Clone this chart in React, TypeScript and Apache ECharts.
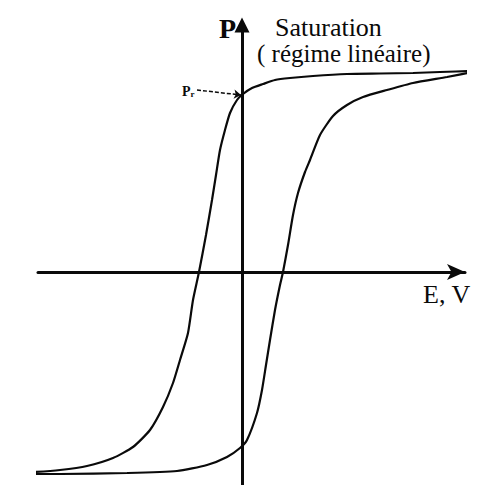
import React, { useEffect, useRef } from "react";
import * as echarts from "echarts";

// Hysteresis loop P(E) of a ferroelectric: descending and ascending branches.
const descendingE = [23.1, 19.8, 17.1, 13.8, 10.5, 7.1, 4.8, 3.3, 2.1, 1.0, 0.1, -0.5, -1.2, -1.7, -2.2, -2.6, -3.0, -3.6, -4.3, -4.9, -5.4, -6.2, -6.9, -7.9, -9.2, -10.9, -12.9, -15.5, -18.2, -20.7, -22.9];
const descendingP = [20.1, 20.0, 19.9, 19.85, 19.8, 19.6, 19.4, 19.2, 18.8, 18.4, 17.8, 17.2, 15.9, 14.2, 12.2, 9.7, 7.2, 3.7, 0, -2.8, -6.1, -8.8, -11.1, -13.5, -15.8, -17.5, -18.6, -19.4, -19.8, -20.0, -20.1];

const ascendingE = [-22.9, -18.2, -11.5, -6.5, -3.5, -1.5, -0.2, 0.5, 1.5, 2.0, 2.4, 2.8, 3.3, 3.8, 4.1, 4.6, 5.1, 5.6, 6.3, 6.8, 7.8, 9.1, 10.5, 12.1, 14.5, 17.1, 20.5, 23.1];
const ascendingP = [-20.2, -20.2, -20.1, -19.9, -19.3, -18.5, -17.6, -16.8, -14.1, -11.8, -9.3, -6.8, -3.8, -1.3, 0, 2.7, 5.7, 7.9, 10.0, 11.2, 13.7, 15.6, 16.7, 17.5, 18.2, 18.9, 19.5, 20.0];

// Axis ranges (E horizontal, P vertical)
const eRange = [-20.4, 22.3];
const pRange = [-21.3, 25.3];

// Remanent polarisation pointer: dashed tail, then its tip on the P axis
const remanentPointerE = [-4.5, -0.1];
const remanentPointerP = [18.2, 17.7];

const axisLabels = { p: "P", e: "E, V" };
const saturationLines = ["Saturation", "( régime linéaire)"];

const zip = (xs: number[], ys: number[]) => xs.map((x, i) => [x, ys[i]]);

export default function App() {
  const ref = useRef<HTMLDivElement>(null);

  useEffect(() => {
    if (!ref.current) return;
    const chart = echarts.init(ref.current, undefined, { renderer: "svg" });
    const ink = "#0a0a0a";
    const serif = "Liberation Serif";

    const hidden = {
      axisTick: { show: false },
      axisLabel: { show: false },
      splitLine: { show: false },
    };

    chart.setOption({
      animation: false,
      backgroundColor: "#ffffff",
      grid: { left: 38, right: 14, top: 19, bottom: 0 },
      xAxis: {
        type: "value",
        min: eRange[0],
        max: eRange[1],
        axisLine: {
          show: true,
          onZero: true,
          symbol: ["none", "arrow"],
          symbolSize: [12, 18],
          lineStyle: { color: ink, width: 3 },
        },
        ...hidden,
      },
      yAxis: {
        type: "value",
        min: pRange[0],
        max: pRange[1],
        axisLine: { show: false },
        ...hidden,
      },
      series: [
        {
          name: "descending",
          type: "line",
          data: zip(descendingE, descendingP),
          showSymbol: false,
          smooth: 0.2,
          clip: false,
          lineStyle: { color: ink, width: 2.2 },
          markLine: {
            silent: true,
            symbol: ["none", "arrow"],
            symbolSize: 7,
            label: { show: false },
            lineStyle: { color: ink, width: 1.5, type: [4, 2] },
            data: [
              [
                { coord: [remanentPointerE[0], remanentPointerP[0]] },
                { coord: [remanentPointerE[1], remanentPointerP[1]] },
              ],
            ],
          },
        },
        {
          name: "ascending",
          type: "line",
          data: zip(ascendingE, ascendingP),
          showSymbol: false,
          smooth: 0.2,
          clip: false,
          lineStyle: { color: ink, width: 2.2 },
          // P axis drawn as a line along E = 0 with a triangular head at the top
          markLine: {
            silent: true,
            symbol: ["none", "triangle"],
            symbolSize: 15,
            label: { show: false },
            lineStyle: { color: ink, width: 3, type: "solid" },
            data: [[{ coord: [0, pRange[0]] }, { coord: [0, pRange[1] - 0.6] }]],
          },
        },
      ],
      graphic: [
        {
          type: "text",
          right: 479 - 236,
          top: 14,
          style: {
            text: axisLabels.p,
            fontFamily: serif,
            fontSize: 28,
            fontWeight: "bold",
            fill: ink,
          },
        },
        {
          type: "text",
          left: 275,
          top: 14,
          style: { text: saturationLines[0], fontFamily: serif, fontSize: 26, fill: ink },
        },
        {
          type: "text",
          left: 257,
          top: 41,
          style: { text: saturationLines[1], fontFamily: serif, fontSize: 25, fill: ink },
        },
        {
          type: "text",
          left: 423,
          top: 281,
          style: { text: axisLabels.e, fontFamily: serif, fontSize: 26, fill: ink },
        },
        {
          type: "text",
          left: 182,
          top: 84,
          style: {
            text: "{a|P}{b|r}",
            fill: ink,
            rich: {
              a: { fontFamily: serif, fontSize: 14, fontWeight: "bold", fill: ink },
              b: { fontFamily: serif, fontSize: 9, fontWeight: "bold", fill: ink, padding: [6, 0, 0, 0] },
            },
          },
        },
      ],
    });

    return () => chart.dispose();
  }, []);

  return (
    <div
      ref={ref}
      style={{ position: "fixed", left: 0, top: 0, width: 479, height: 485, background: "#fff" }}
    />
  );
}
